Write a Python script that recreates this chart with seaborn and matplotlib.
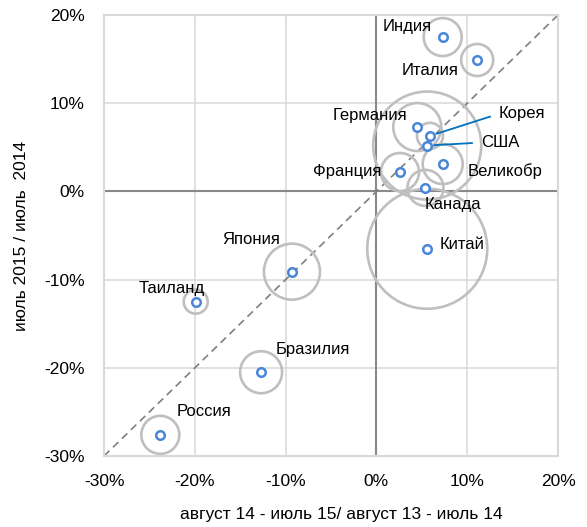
import numpy as np
import pandas as pd
import matplotlib
matplotlib.use("Agg")
import matplotlib.pyplot as plt
from matplotlib.ticker import FuncFormatter
import seaborn as sns

# Data (growth, %)
countries = ["Индия", "Италия", "Германия", "Корея", "США", "Франция", "Великобр",
             "Канада", "Китай", "Япония", "Таиланд", "Бразилия", "Россия"]
x_growth = [7.3, 11.1, 4.5, 5.9, 5.6, 2.6, 7.3, 5.4, 5.6, -9.3, -19.9, -12.7, -23.8]
y_growth = [17.5, 14.9, 7.3, 6.3, 5.2, 2.2, 3.1, 0.4, -6.5, -9.1, -12.5, -20.5, -27.6]
# bubble weight (area)
bubble = [361, 256, 576, 169, 2916, 361, 400, 324, 3600, 784, 144, 441, 361]

# label offsets in pixels (dx, dy) relative to point
label_offsets = [(-36, 11), (-47, -10), (-47, 12), (92, 22), (73, 3), (-53, 1), (62, -7),
                 (27, -17), (35, 4), (-41, 32), (-24, 13), (52, 23), (44, 23)]
leader = {"Корея", "США"}

df = pd.DataFrame({"country": countries, "x": x_growth, "y": y_growth, "bubble": bubble})

sns.set_style("white")
plt.rcParams['font.family'] = ['Liberation Sans', 'DejaVu Sans']
plt.rcParams['text.color'] = 'black'
plt.rcParams['axes.labelcolor'] = 'black'

fig = plt.figure(figsize=(5.87, 5.27), dpi=100)
ax = fig.add_axes([0.1772, 0.1347, 0.7734, 0.8368])

ax.set_xlim(-30, 20)
ax.set_ylim(-30, 20)
ticks = [-30, -20, -10, 0, 10, 20]
ax.set_xticks(ticks)
ax.set_yticks(ticks)
ax.grid(True, color="#d9d9d9", linewidth=1.1, zorder=0)
ax.set_axisbelow(True)
for sp in ax.spines.values():
    sp.set_color("#d9d9d9")
    sp.set_linewidth(1.5)

ax.axhline(0, color="#898989", linewidth=1.5, zorder=1)
ax.axvline(0, color="#898989", linewidth=1.5, zorder=1)
ax.plot([-30, 20], [-30, 20], linestyle=(0, (4.5, 3)), color="#7f7f7f", linewidth=1.2, zorder=2)

px2pt = 0.72
sns.scatterplot(data=df, x="x", y="y", s=df["bubble"] * (2 * px2pt) ** 2, marker="o",
                facecolor="none", edgecolor="#bfbfbf", linewidth=1.9, ax=ax, zorder=3)
sns.scatterplot(data=df, x="x", y="y", s=38, marker="o", facecolor="white",
                edgecolor="#4a86d8", linewidth=1.8, ax=ax, zorder=4)

for name, xv, yv, (dx, dy) in zip(countries, x_growth, y_growth, label_offsets):
    if name in leader:
        ax.annotate(name, (xv, yv), xytext=(dx, dy), textcoords="offset pixels",
                    ha="center", va="center", fontsize=12, zorder=5,
                    arrowprops=dict(arrowstyle="-", color="#0070c0", linewidth=1.3,
                                    relpos=(0, 0.5), shrinkA=4, shrinkB=5))
    else:
        ax.annotate(name, (xv, yv), xytext=(dx, dy), textcoords="offset pixels",
                    ha="center", va="center", fontsize=12, zorder=5)

pct = FuncFormatter(lambda v, p: f"{v:.0f}%")
ax.xaxis.set_major_formatter(pct)
ax.yaxis.set_major_formatter(pct)
ax.tick_params(axis="both", length=0, labelsize=12.5, colors="black")
ax.tick_params(axis="x", pad=13)
ax.tick_params(axis="y", pad=14)

ax.set_xlabel("август 14 - июль 15/ август 13 - июль 14", fontsize=12.5, va="center")
ax.xaxis.set_label_coords(0.522, -0.1315)
ax.set_ylabel("июль 2015 / июль  2014", fontsize=12.5, va="center")
ax.yaxis.set_label_coords(-0.181, 0.5)

fig.savefig("out.png", dpi=100)
